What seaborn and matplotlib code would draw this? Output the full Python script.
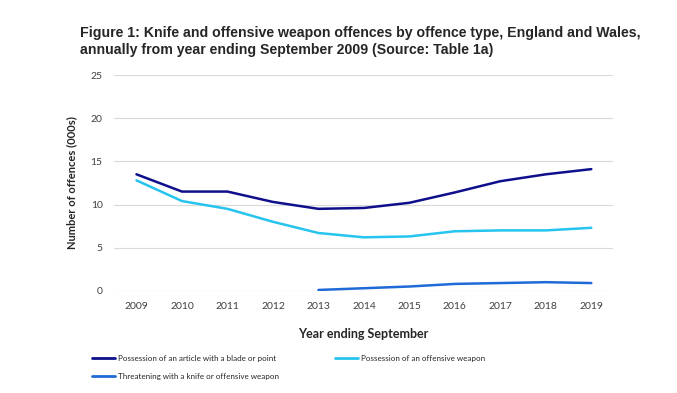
import pandas as pd
import numpy as np
import matplotlib.pyplot as plt
import seaborn as sns

# Values (thousands)
years = list(range(2009, 2020))
blade = [13.5, 11.5, 11.5, 10.3, 9.5, 9.6, 10.2, 11.4, 12.7, 13.5, 14.1]
offensive = [12.8, 10.4, 9.5, 8.0, 6.7, 6.2, 6.3, 6.9, 7.0, 7.0, 7.3]
threat_years = list(range(2013, 2020))
threat = [0.1, 0.3, 0.5, 0.8, 0.9, 1.0, 0.9]

names = ['Possession of an article with a blade or point',
         'Possession of an offensive weapon',
         'Threatening with a knife or offensive weapon']
colors = ['#0f0f8c', '#26c4ee', '#1f6ad6']

data = pd.concat([
    pd.DataFrame({'Year': years, 'Offences': blade, 'Type': names[0]}),
    pd.DataFrame({'Year': years, 'Offences': offensive, 'Type': names[1]}),
    pd.DataFrame({'Year': threat_years, 'Offences': threat, 'Type': names[2]}),
])

sns.set_style('white')
plt.rcParams['font.family'] = ['Lato', 'DejaVu Sans']

fig = plt.figure(figsize=(6.77, 3.93), dpi=100)
ax = fig.add_axes([0.168, 0.26, 0.737, 0.549])
sns.lineplot(data=data, x='Year', y='Offences', hue='Type', palette=colors,
             linewidth=1.8, ax=ax, legend=False)

ax.set_xlim(2008.5, 2019.47)
ax.set_ylim(0, 25)
ax.set_xticks(years)
ax.set_yticks(range(0, 26, 5))
ax.tick_params(length=0, labelsize=7.5, colors='#404040', pad=8)
ax.yaxis.grid(True, color='#d9d9d9', linewidth=0.8)
ax.set_axisbelow(True)
for s in ax.spines.values():
    s.set_visible(False)
ax.set_xlabel('Year ending September', fontsize=9, fontweight='bold', color='#262626', labelpad=12)
ax.set_ylabel('Number of offences (000s)', fontsize=8, fontweight='bold', color='#262626', labelpad=10)

fig.text(0.118, 0.935, 'Figure 1: Knife and offensive weapon offences by offence type, England and Wales,\n'
         'annually from year ending September 2009 (Source: Table 1a)',
         fontsize=10.2, fontweight='bold', family='Liberation Sans', va='top', linespacing=1.3)

# legend filled by column, so order as blade, threat, offensive
order = [0, 2, 1]
handles = [plt.Line2D([], [], color=colors[i], linewidth=2) for i in order]
fig.legend(handles, [names[i] for i in order], loc='upper left', bbox_to_anchor=(0.125, 0.115),
           ncol=2, frameon=False, fontsize=5.8, handlelength=2.9, handletextpad=0.3,
           columnspacing=7.0, labelspacing=1.3)

fig.savefig('out.png', dpi=100)
